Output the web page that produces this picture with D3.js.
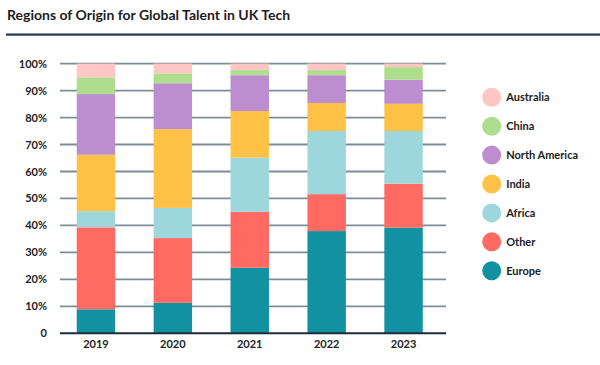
<!DOCTYPE html>
<html><head><meta charset="utf-8">
<script src="https://cdn.jsdelivr.net/npm/d3@7"></script>
<style>
html,body{margin:0;padding:0;background:#fff;}
svg{display:block;font-family:Lato,"Open Sans",sans-serif;}
</style></head>
<body><svg id="c" width="600" height="365"></svg>
<script>
const years = ["2019","2020","2021","2022","2023"];
const regions = ["Europe","Other","Africa","India","North America","China","Australia"];
const europe = [8.9, 11.3, 24.3, 37.9, 39.2];
const other = [30.4, 24.0, 20.8, 13.7, 16.3];
const africa = [6.0, 11.2, 20.0, 23.4, 19.5];
const india = [20.9, 29.2, 17.3, 10.4, 10.1];
const northAmerica = [22.5, 17.0, 13.3, 10.3, 8.9];
const china = [6.2, 3.7, 1.9, 1.9, 4.7];
const australia = [5.1, 3.6, 2.4, 2.4, 1.3];
const yTicks = [0, 10, 20, 30, 40, 50, 60, 70, 80, 90, 100];
const colors = ["#1291a1","#ff6b62","#9dd7dc","#ffc247","#bd8ecf","#aedd8e","#ffc6c3"];

const seriesVals = [europe, other, africa, india, northAmerica, china, australia];
const rows = years.map((y, i) => {
  const r = {year: y};
  regions.forEach((k, j) => r[k] = seriesVals[j][i]);
  return r;
});
const stack = d3.stack().keys(regions).offset(d3.stackOffsetExpand)(rows);

const svg = d3.select("#c");
svg.append("text").attr("x", 7).attr("y", 20).attr("font-size", 14).attr("font-weight", 700)
  .attr("fill", "#1d1d1d").text("Regions of Origin for Global Talent in UK Tech");
svg.append("rect").attr("x", 6).attr("y", 33.5).attr("width", 594).attr("height", 2.2).attr("fill", "#23394a");

const x = d3.scaleBand().domain(years).range([57.5, 442]).paddingInner(0.5).paddingOuter(0.25);
const y = d3.scaleLinear().domain([0, 1]).range([333.3, 63.6]);

const grid = svg.append("g");
grid.selectAll("line").data(yTicks.filter(t => t > 0)).join("line")
  .attr("x1", 60).attr("x2", 446)
  .attr("y1", d => y(d/100)).attr("y2", d => y(d/100))
  .attr("stroke", "#7d8d96").attr("stroke-width", 1.8);

svg.append("g").selectAll("g").data(stack).join("g")
  .attr("fill", (d, i) => colors[i])
  .selectAll("rect").data(d => d).join("rect")
  .attr("x", d => x(d.data.year)).attr("width", x.bandwidth())
  .attr("y", d => y(d[1])).attr("height", d => y(d[0]) - y(d[1]));

svg.append("line").attr("x1", 60).attr("x2", 446).attr("y1", 333.3).attr("y2", 333.3)
  .attr("stroke", "#1c2c38").attr("stroke-width", 2);

const yAxis = d3.axisLeft(y).tickValues(yTicks.map(t => t/100))
  .tickFormat(d => d === 0 ? "0" : Math.round(d*100) + "%").tickSize(0).tickPadding(0);
const ya = svg.append("g").attr("transform", "translate(47,0)").call(yAxis);
ya.select(".domain").remove();
ya.selectAll("text").attr("font-size", 11).attr("font-weight", 700).attr("fill", "#222")
  .attr("font-family", "Lato,'Open Sans',sans-serif");

const xAxis = d3.axisBottom(x).tickSize(0).tickPadding(0);
const xa = svg.append("g").attr("transform", "translate(0,340)").call(xAxis);
xa.select(".domain").remove();
xa.selectAll("text").attr("font-size", 11).attr("font-weight", 700).attr("fill", "#222")
  .attr("font-family", "Lato,'Open Sans',sans-serif");

const legendOrder = regions.slice().reverse();
const lg = svg.append("g").selectAll("g").data(legendOrder).join("g")
  .attr("transform", (d, i) => `translate(491.7,${97.3 + i*28.9})`);
lg.append("circle").attr("r", 9.5).attr("fill", d => colors[regions.indexOf(d)]);
lg.append("text").attr("x", 14.5).attr("dy", "0.35em").attr("font-size", 11).attr("font-weight", 700)
  .attr("fill", "#222").text(d => d);
</script></body></html>
